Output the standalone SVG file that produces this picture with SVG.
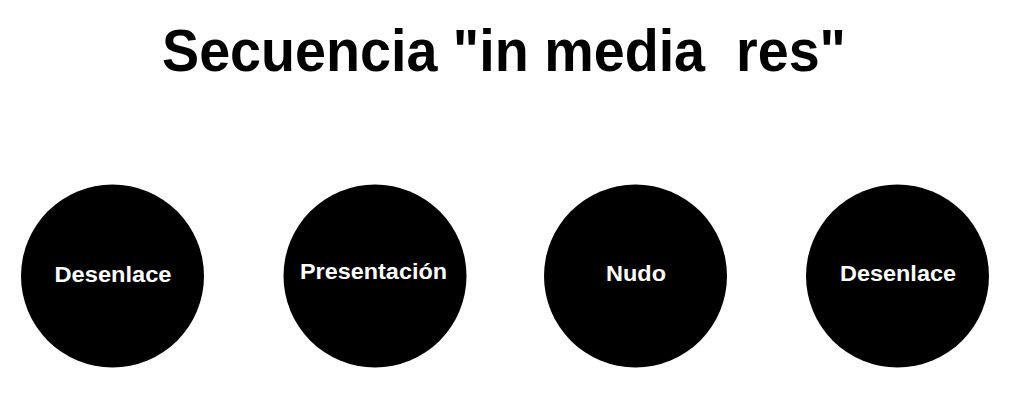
<svg xmlns="http://www.w3.org/2000/svg" width="1015" height="405" viewBox="0 0 1015 405">
<style>
.title{font-family:"Liberation Sans",Arial,sans-serif;font-weight:bold;font-size:59px;fill:#000;white-space:pre}
.node circle{fill:#000}
.node text{font-family:"Liberation Sans",Arial,sans-serif;font-weight:bold;font-size:22.5px;fill:#fff;text-anchor:middle}
</style>
<rect width="1015" height="405" fill="#fff"/>
<text class="title" x="162" y="71" textLength="684" lengthAdjust="spacingAndGlyphs" xml:space="preserve">Secuencia "in media  res"</text>
<g id="connectors"></g>
<g id="node-desenlace-1" class="node">
<circle cx="112.5" cy="276" r="91.5"/>
<text x="113" y="281.5" textLength="117" lengthAdjust="spacingAndGlyphs">Desenlace</text>
</g>
<g id="node-presentacion" class="node">
<circle cx="375" cy="276" r="91.5"/>
<text x="373.5" y="278.5" textLength="147" lengthAdjust="spacingAndGlyphs">Presentación</text>
</g>
<g id="node-nudo" class="node">
<circle cx="635.5" cy="276" r="91.5"/>
<text x="636" y="280.5" textLength="60" lengthAdjust="spacingAndGlyphs">Nudo</text>
</g>
<g id="node-desenlace-2" class="node">
<circle cx="897.5" cy="276" r="91.5"/>
<text x="898" y="280.5" textLength="116" lengthAdjust="spacingAndGlyphs">Desenlace</text>
</g>
</svg>
